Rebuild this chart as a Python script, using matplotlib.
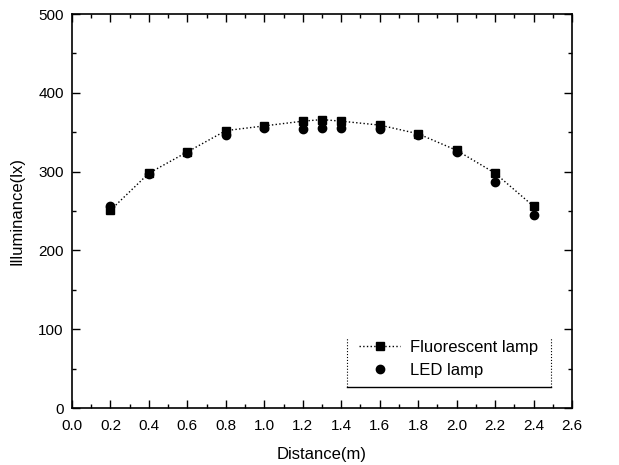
import matplotlib
matplotlib.use("Agg")
import matplotlib.pyplot as plt
from matplotlib.ticker import MultipleLocator, FormatStrFormatter
from matplotlib.lines import Line2D

plt.rcParams['font.family'] = ['Liberation Sans', 'DejaVu Sans']

distance = [0.2, 0.4, 0.6, 0.8, 1.0, 1.2, 1.3, 1.4, 1.6, 1.8, 2.0, 2.2, 2.4]
fluorescent = [251, 298, 325, 352, 358, 364, 366, 364, 359, 348, 327, 298, 256]
led = [256, 297, 323, 346, 355, 354, 355, 355, 354, 346, 325, 287, 245]

fig = plt.figure(figsize=(6.19, 4.65), dpi=100)
ax = fig.add_axes([72/619, 1-408/465, 500/619, 394/465])

ax.plot(distance, fluorescent, linestyle=':', color='black', linewidth=1.0,
        marker='s', markersize=6, markerfacecolor='black', markeredgecolor='black',
        label='Fluorescent lamp')
ax.plot(distance, led, linestyle='none', color='black',
        marker='o', markersize=6, label='LED lamp')

ax.set_xlim(0, 2.6)
ax.set_ylim(0, 500)
ax.xaxis.set_major_locator(MultipleLocator(0.2))
ax.xaxis.set_minor_locator(MultipleLocator(0.1))
ax.yaxis.set_major_locator(MultipleLocator(100))
ax.yaxis.set_minor_locator(MultipleLocator(50))
ax.xaxis.set_major_formatter(FormatStrFormatter('%.1f'))
ax.tick_params(which='both', direction='in', top=True, right=True, labelsize=11)
ax.tick_params(which='major', length=6, width=1)
ax.tick_params(which='minor', length=3, width=1)
ax.tick_params(axis='x', pad=8)
ax.tick_params(axis='y', pad=6)
for s in ax.spines.values():
    s.set_linewidth(1.2)

ax.set_xlabel('Distance(m)', fontsize=12, labelpad=10)
ax.set_ylabel('Illuminance(lx)', fontsize=12, labelpad=10)

leg = ax.legend(loc='lower left', bbox_to_anchor=(0.56, 0.06), frameon=False,
                fontsize=12, handlelength=2.5, handletextpad=0.6,
                borderaxespad=0, labelspacing=0.45)

# legend box: dotted sides, solid bottom
lx0, lx1, ly0, ly1 = 0.55, 0.958, 0.053, 0.18
ax.add_line(Line2D([lx0, lx0], [ly0, ly1], transform=ax.transAxes, color='black', linestyle=':', linewidth=0.8))
ax.add_line(Line2D([lx1, lx1], [ly0, ly1], transform=ax.transAxes, color='black', linestyle=':', linewidth=0.8))
ax.add_line(Line2D([lx0, lx1], [ly0, ly0], transform=ax.transAxes, color='black', linestyle='-', linewidth=1.0))

fig.savefig('out.png', dpi=100)
